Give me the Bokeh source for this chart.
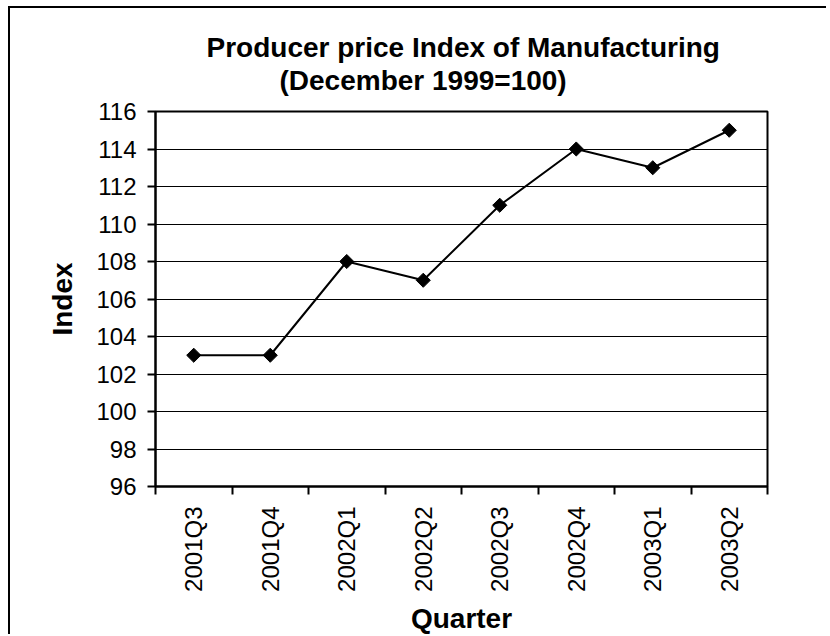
import math
from bokeh.plotting import figure
from bokeh.models import Range1d, FixedTicker, Title
from bokeh.embed import file_html
from bokeh.resources import INLINE

quarters = ["2001Q3", "2001Q4", "2002Q1", "2002Q2", "2002Q3", "2002Q4", "2003Q1", "2003Q2"]
index_values = [103, 103, 108, 107, 111, 114, 113, 115]
y_ticks = [96, 98, 100, 102, 104, 106, 108, 110, 112, 114, 116]
title_lines = ["Producer price Index of Manufacturing", "(December 1999=100)"]
x_title = "Quarter"
y_title = "Index"

FONT = "Liberation Sans"

xs = [i + 0.5 for i in range(len(quarters))]

W, H = 818, 628
p = figure(width=W, height=H, output_backend="svg", toolbar_location=None,
           x_range=Range1d(0, len(quarters)), y_range=Range1d(y_ticks[0], y_ticks[-1]),
           min_border_left=145, min_border_top=103, min_border_right=61,
           min_border_bottom=149)
p.styles = {"border-top": "2px solid black", "border-left": "2px solid black",
            "margin-left": "8px", "margin-top": "6px"}
p.background_fill_color = "white"
p.border_fill_color = "white"
p.outline_line_color = "black"
p.outline_line_width = 2

# titles: main title outermost; added panels stack outward from the plot area
p.title.text = title_lines[0]
p.title.align = "left"
p.title.offset = 51
p.title.text_font = FONT
p.title.text_font_style = "bold"
p.title.text_font_size = "28px"
p.title.text_color = "black"
p.title.standoff = 0
# empty spacer between the subtitle and the plot area
p.add_layout(Title(text=" ", text_font_size="12px", standoff=0), "above")
p.add_layout(Title(text=title_lines[1], align="left", offset=124, text_font=FONT,
                   text_font_style="bold", text_font_size="28px", text_color="black",
                   standoff=0), "above")

# grid
p.xgrid.visible = False
p.ygrid.grid_line_color = "black"
p.ygrid.grid_line_width = 1
p.ygrid.ticker = FixedTicker(ticks=y_ticks)

# y axis
p.yaxis.ticker = FixedTicker(ticks=y_ticks)
p.yaxis.axis_line_color = "black"
p.yaxis.axis_line_width = 2
p.yaxis.major_tick_line_color = "black"
p.yaxis.major_tick_line_width = 2
p.yaxis.major_tick_out = 8
p.yaxis.major_tick_in = 0
p.yaxis.minor_tick_line_color = None
p.yaxis.major_label_text_font = FONT
p.yaxis.major_label_text_font_size = "24px"
p.yaxis.major_label_text_color = "black"
p.yaxis.major_label_standoff = 11
p.yaxis.axis_label = y_title
p.yaxis.axis_label_text_font = FONT
p.yaxis.axis_label_text_font_style = "bold"
p.yaxis.axis_label_text_font_size = "28px"
p.yaxis.axis_label_text_color = "black"
p.yaxis.axis_label_standoff = 15

# x axis: labels at category centres, ticks at boundaries
p.xaxis.ticker = FixedTicker(ticks=xs, minor_ticks=list(range(len(quarters) + 1)))
p.xaxis.major_label_overrides = {x: q for x, q in zip(xs, quarters)}
p.xaxis.major_label_orientation = math.pi / 2
p.xaxis.major_label_text_font = FONT
p.xaxis.major_label_text_font_size = "24px"
p.xaxis.major_label_text_color = "black"
p.xaxis.major_label_standoff = 12
p.xaxis.major_tick_out = 0
p.xaxis.major_tick_in = 0
p.xaxis.major_tick_line_color = None
p.xaxis.minor_tick_line_color = "black"
p.xaxis.minor_tick_line_width = 2
p.xaxis.minor_tick_out = 8
p.xaxis.minor_tick_in = 0
p.xaxis.axis_line_color = "black"
p.xaxis.axis_line_width = 2
p.xaxis.axis_label = x_title
p.xaxis.axis_label_text_font = FONT
p.xaxis.axis_label_text_font_style = "bold"
p.xaxis.axis_label_text_font_size = "28px"
p.xaxis.axis_label_text_color = "black"
p.xaxis.axis_label_standoff = 8

# data
p.line(xs, index_values, line_color="black", line_width=2)
p.scatter(xs, index_values, marker="square", angle=math.pi / 4, size=10,
          fill_color="black", line_color="black")

open("out.html", "w").write(file_html(p, INLINE))
